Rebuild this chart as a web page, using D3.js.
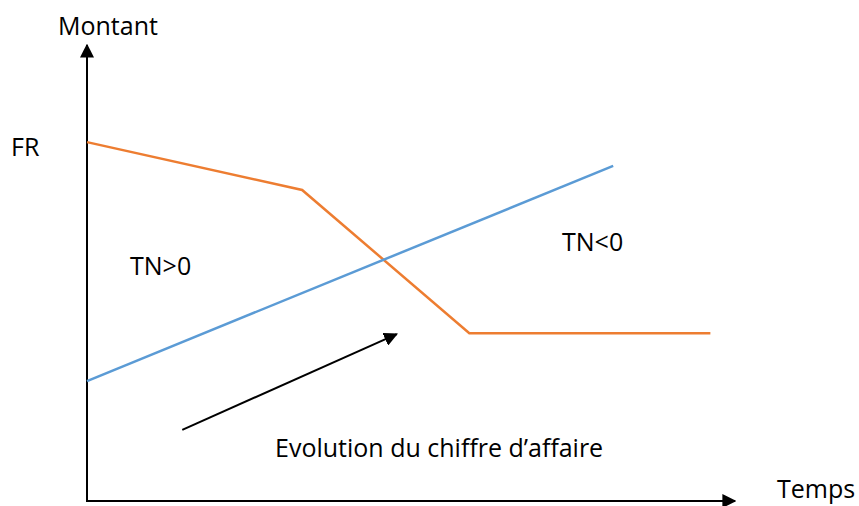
<!DOCTYPE html>
<html>
<head>
<meta charset="utf-8">
<script src="https://cdn.jsdelivr.net/npm/d3@7"></script>
<style>
	body { margin: 0; background: #fff; }
	text { font-family: "Open Sans", "Liberation Sans", sans-serif; fill: #000; }
</style>
</head>
<body>
<svg id="chart" width="859" height="506"></svg>
<script>
// schematic values (arbitrary units, 0-100 on both axes)
const tempsFR = [0, 33.2, 59, 96.2];
const montantFR = [78.7, 68.2, 36.8, 36.8];
const tempsBFR = [0, 81.2];
const montantBFR = [26.3, 73.5];
const arrowTemps = [14.7, 47.8];
const arrowMontant = [15.6, 36.6];

const svg = d3.select('#chart');

const x = d3.scaleLinear().domain([0, 100]).range([87, 735]);
const y = d3.scaleLinear().domain([0, 100]).range([501, 45]);

// arrowhead marker
svg.append('defs').append('marker')
	.attr('id', 'head')
	.attr('viewBox', '0 0 10 10')
	.attr('refX', 9)
	.attr('refY', 5)
	.attr('markerWidth', 7)
	.attr('markerHeight', 7)
	.attr('markerUnits', 'strokeWidth')
	.attr('orient', 'auto')
	.append('path')
	.attr('d', 'M0,0 L10,5 L0,10 Z')
	.attr('fill', '#000');

// axes
svg.append('line')
	.attr('x1', x(0)).attr('y1', y(0))
	.attr('x2', x(0)).attr('y2', y(100))
	.attr('stroke', '#000').attr('stroke-width', 2)
	.attr('marker-end', 'url(#head)');

svg.append('line')
	.attr('x1', x(0) - 1).attr('y1', y(0))
	.attr('x2', x(100)).attr('y2', y(0))
	.attr('stroke', '#000').attr('stroke-width', 2)
	.attr('marker-end', 'url(#head)');

const line = d3.line()
	.x(d => x(d[0]))
	.y(d => y(d[1]));

// FR (orange)
svg.append('path')
	.datum(d3.zip(tempsFR, montantFR))
	.attr('d', line)
	.attr('fill', 'none')
	.attr('stroke', '#ED7D31')
	.attr('stroke-width', 2.5);

// BFR (blue)
svg.append('path')
	.datum(d3.zip(tempsBFR, montantBFR))
	.attr('d', line)
	.attr('fill', 'none')
	.attr('stroke', '#5B9BD5')
	.attr('stroke-width', 2.5);

// evolution arrow
svg.append('line')
	.attr('x1', x(arrowTemps[0])).attr('y1', y(arrowMontant[0]))
	.attr('x2', x(arrowTemps[1])).attr('y2', y(arrowMontant[1]))
	.attr('stroke', '#000').attr('stroke-width', 2)
	.attr('marker-end', 'url(#head)');

// labels
const labels = [
	{t: 'Montant', x: 58, y: 35},
	{t: 'FR', x: 11, y: 156},
	{t: 'Temps', x: 777, y: 498},
	{t: 'TN>0', x: 130, y: 275},
	{t: 'TN<0', x: 562, y: 251},
	{t: 'Evolution du chiffre d\u2019affaire', x: 275, y: 457}
];

svg.selectAll('.lbl')
	.data(labels)
	.enter()
	.append('text')
	.attr('class', 'lbl')
	.attr('x', d => d.x)
	.attr('y', d => d.y)
	.attr('font-size', 25)
	.text(d => d.t);
</script>
</body>
</html>
